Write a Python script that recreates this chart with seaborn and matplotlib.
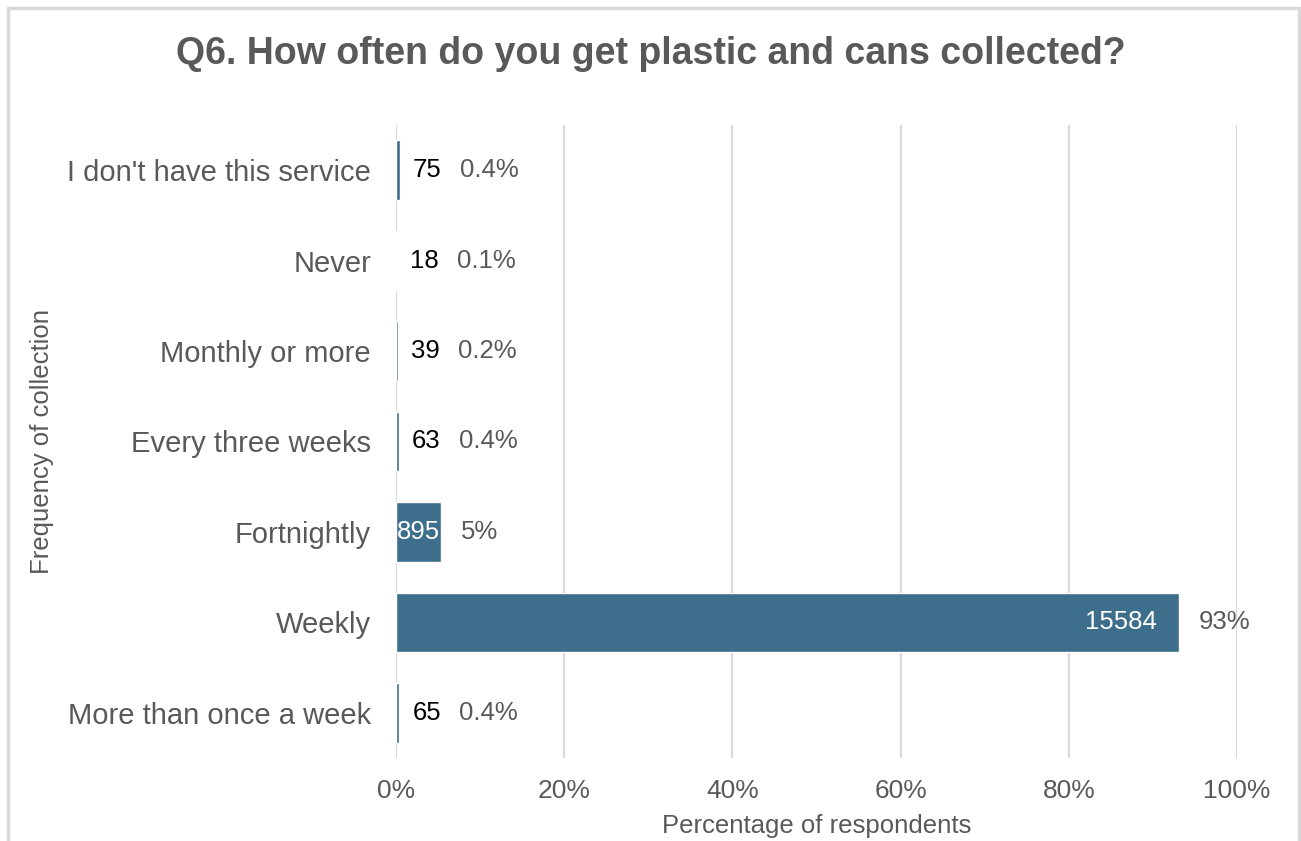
import matplotlib
matplotlib.use("Agg")
import matplotlib.pyplot as plt
from matplotlib.lines import Line2D
import pandas as pd
import seaborn as sns

categories = [
    "I don't have this service",
    "Never",
    "Monthly or more",
    "Every three weeks",
    "Fortnightly",
    "Weekly",
    "More than once a week",
]
counts = [75, 18, 39, 63, 895, 15584, 65]
percents = [0.448, 0.108, 0.233, 0.376, 5.347, 93.100, 0.388]
pct_labels = ["0.4%", "0.1%", "0.2%", "0.4%", "5%", "93%", "0.4%"]

df = pd.DataFrame({"category": categories, "pct": percents})

sns.set_theme(style="white")
plt.rcParams["font.family"] = ["Liberation Sans", "DejaVu Sans"]

bar_color = "#3d6e8c"
grey_text = "#595959"

fig = plt.figure(figsize=(13.01, 8.41), dpi=100)
ax = fig.add_axes([0.3044, 0.0987, 0.6464, 0.7527])

sns.barplot(data=df, x="pct", y="category", color=bar_color, width=0.66,
            saturation=1, ax=ax, zorder=3)

ax.set_xlim(0, 100)
ax.set_xticks([0, 20, 40, 60, 80, 100])
ax.set_xticklabels([f"{t}%" for t in [0, 20, 40, 60, 80, 100]])
ax.grid(axis="x", color="#d9d9d9", linewidth=1.6, zorder=0)
ax.grid(axis="y", visible=False)
for s in ax.spines.values():
    s.set_visible(False)
ax.tick_params(axis="both", length=0, labelcolor=grey_text)
ax.tick_params(axis="x", pad=15, labelsize=19)
ax.tick_params(axis="y", pad=18, labelsize=21)

ax.set_xlabel("Percentage of respondents", fontsize=18.5, color=grey_text)
ax.set_ylabel("Frequency of collection", fontsize=18.5, color=grey_text)
ax.xaxis.set_label_coords(0.5, -0.088)
ax.yaxis.set_label_coords(-0.407, 0.5)

# data labels: counts and percentages
for i, (c, p, lab) in enumerate(zip(counts, percents, pct_labels)):
    if p > 3:
        if p > 50:
            ax.annotate(str(c), (p, i), xytext=(-22, 0), textcoords="offset pixels",
                        ha="right", va="center", fontsize=18.5, color="white", zorder=5)
        else:
            ax.annotate(str(c), (p / 2, i), ha="center", va="center",
                        fontsize=18.5, color="white", zorder=5)
        ax.annotate(lab, (p, i), xytext=(20, 0), textcoords="offset pixels",
                    ha="left", va="center", fontsize=18.5, color=grey_text, zorder=5)
    else:
        ax.annotate(str(c), (p, i), xytext=(13, 0), textcoords="offset pixels",
                    ha="left", va="center", fontsize=18.5, color="black", zorder=5)
        ax.annotate(lab, (p, i), xytext=(60, 0), textcoords="offset pixels",
                    ha="left", va="center", fontsize=18.5, color=grey_text, zorder=5)

fig.text(0.5, 0.936, "Q6. How often do you get plastic and cans collected?",
         ha="center", va="center", fontsize=27, fontweight="bold", color=grey_text)

# chart area border
border = dict(color="#d9d9d9", linewidth=2.5, transform=fig.transFigure)
fig.add_artist(Line2D([8 / 1301, 8 / 1301], [0, 1 - 8 / 841], **border))
fig.add_artist(Line2D([8 / 1301, 1299 / 1301], [1 - 8 / 841, 1 - 8 / 841], **border))
fig.add_artist(Line2D([1299 / 1301, 1299 / 1301], [0, 1 - 8 / 841], **border))

fig.savefig("out.png", dpi=100, facecolor="white")
